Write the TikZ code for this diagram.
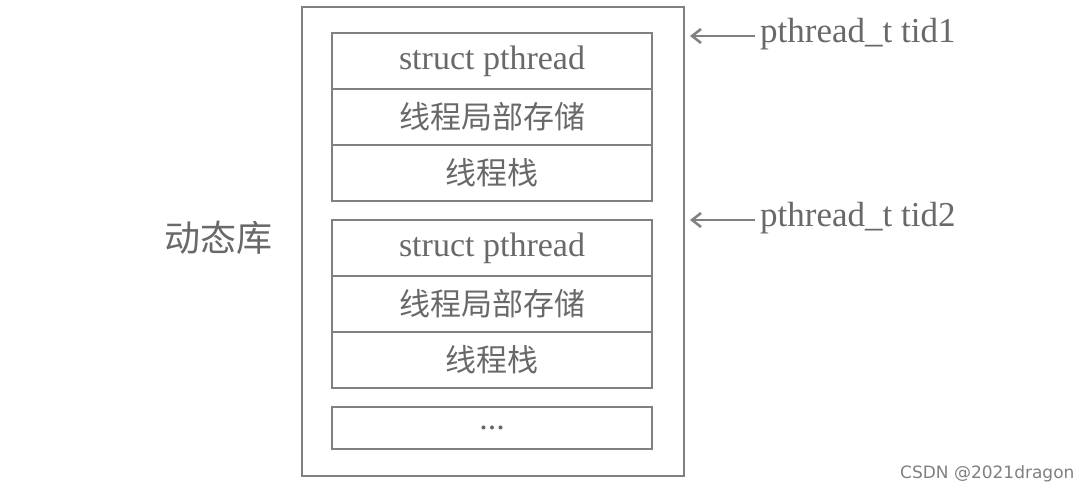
\documentclass[tikz,border=0pt]{standalone}
\usepackage{fontspec}
\setmainfont{Liberation Serif}
\newfontfamily\cjk{Noto Sans CJK SC}
\newfontfamily\wmfont{DejaVu Sans}
\usetikzlibrary{arrows.meta}
\definecolor{ln}{RGB}{128,128,128}
\definecolor{tx}{RGB}{105,105,105}
\tikzset{cell/.style={draw=ln,line width=2.5pt,minimum width=320pt,minimum height=56pt,inner sep=0pt,text=tx,font=\fontsize{34}{36}\selectfont},
 ccell/.style={cell,font=\cjk\fontsize{31}{33}\selectfont},
 lbl/.style={text=tx,font=\fontsize{35}{37}\selectfont,anchor=west,inner sep=0pt},
 ptr/.style={draw=ln,line width=2.5pt,-{Straight Barb[length=9pt,width=14pt]}}}
\begin{document}
\begin{tikzpicture}[x=1pt,y=-1pt]
\useasboundingbox[fill=white] (0,0) rectangle (1090,494);
\draw[ln,line width=2.5pt] (302,7) rectangle (684,476);
\node[cell] (a1) at (492,61) {\raisebox{-3pt}{struct pthread}};
\node[ccell] (a2) at (492,117) {线程局部存储};
\node[ccell] (a3) at (492,173) {线程栈};
\node[cell] (b1) at (492,248) {\raisebox{-3pt}{struct pthread}};
\node[ccell] (b2) at (492,304) {线程局部存储};
\node[ccell] (b3) at (492,360) {线程栈};
\node[cell,minimum height=42pt] (c) at (492,428) {...};
\node[text=tx,font=\cjk\fontsize{36}{38}\selectfont] (dl) at (218,238) {动态库};
\node[lbl] (t1) at (760,34) {pthread\_t tid1};
\node[lbl] (t2) at (760,218) {pthread\_t tid2};
\coordinate (e1) at (690,36);
\coordinate (e2) at (690,220);
\draw[ptr] (755,36) -- (e1);
\draw[ptr] (755,220) -- (e2);
\node[anchor=east,text=ln,font=\wmfont\fontsize{17}{19}\selectfont] (wm) at (1078,474) {CSDN @2021dragon};
\end{tikzpicture}
\end{document}
